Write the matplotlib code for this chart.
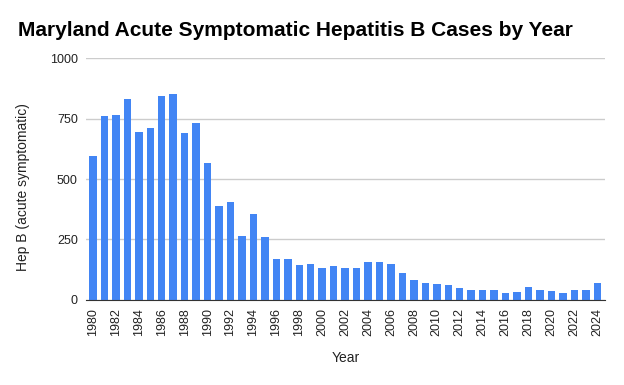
import matplotlib
matplotlib.use('Agg')
import matplotlib.pyplot as plt

YEARS = list(range(1980, 2025))
CASES = [
    597, 761, 765, 830, 696, 710, 843, 853, 692, 731,
    567, 390, 403, 264, 356, 260, 169, 169, 143, 147,
    130, 139, 130, 130, 156, 156, 147, 112, 82, 69,
    65, 60, 48, 39, 39, 39, 27, 31, 52, 39,
    35, 27, 43, 39, 69,
]
Y_TICKS = [0, 250, 500, 750, 1000]
X_TICKS = list(range(1980, 2025, 2))

BAR_COLOR = '#4285F4'
TEXT_COLOR = '#222222'

plt.rcParams['font.family'] = ['Liberation Sans', 'DejaVu Sans']


def main() -> None:
    fig = plt.figure(figsize=(6.24, 3.85), dpi=100)
    ax = fig.add_axes([0.138, 0.221, 0.832, 0.628])

    ax.bar(YEARS, CASES, width=0.65, color=BAR_COLOR, zorder=3)

    ax.set_ylim(0, 1000)
    ax.set_xlim(YEARS[0] - 0.6, YEARS[-1] + 0.7)
    ax.set_yticks(Y_TICKS)
    ax.set_yticklabels([str(t) for t in Y_TICKS])
    ax.set_xticks(X_TICKS)
    ax.set_xticklabels([str(t) for t in X_TICKS], rotation=90)

    ax.grid(axis='y', color='#cccccc', linewidth=1, zorder=0)
    for side in ('top', 'right', 'left'):
        ax.spines[side].set_visible(False)
    ax.spines['bottom'].set_color('#333333')
    ax.spines['bottom'].set_zorder(4)
    ax.tick_params(axis='both', length=0, labelsize=9, colors=TEXT_COLOR, pad=6)

    fig.text(0.029, 0.922, 'Maryland Acute Symptomatic Hepatitis B Cases by Year',
             fontsize=15, fontweight='bold', color='black', va='center', ha='left')
    fig.text(0.037, 0.515, 'Hep B (acute symptomatic)', rotation=90,
             fontsize=10, color=TEXT_COLOR, va='center', ha='center')
    fig.text(0.554, 0.07, 'Year', fontsize=10, color=TEXT_COLOR, va='center', ha='center')

    fig.savefig('out.png', dpi=100)


if __name__ == '__main__':
    main()
